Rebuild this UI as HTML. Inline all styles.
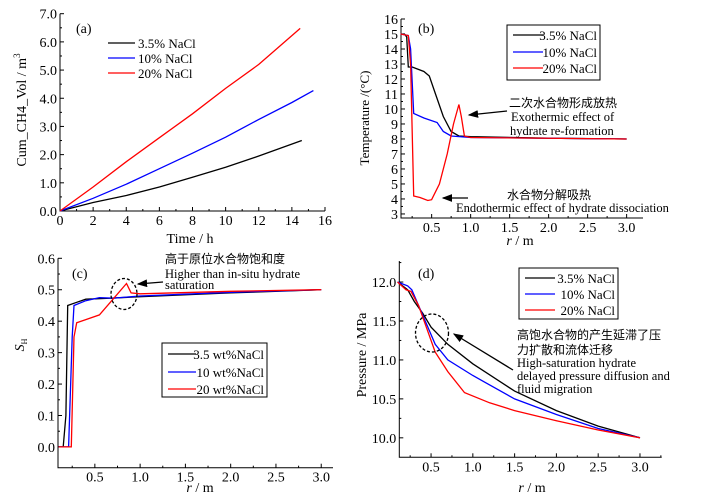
<!DOCTYPE html>
<html><head><meta charset="utf-8"><style>
html,body{margin:0;padding:0;background:#fff;}
svg{display:block;font-family:"Liberation Serif","Noto Serif CJK SC",serif;}
</style></head><body>
<svg id="fig" width="701" height="497" viewBox="0 0 701 497" xmlns="http://www.w3.org/2000/svg"></svg>
<script>
// ---- data (a) ----
const aBlackX=[0,2,4,6,8,10,12,14.6];
const aBlackY=[0,0.3,0.55,0.85,1.2,1.55,1.95,2.5];
const aBlueX=[0,2,4,6,8,10,12,14,15.3];
const aBlueY=[0,0.45,0.95,1.5,2.05,2.62,3.25,3.85,4.27];
const aRedX=[0,2,4,6,8,10,12,14.5];
const aRedY=[0,0.85,1.75,2.6,3.45,4.35,5.2,6.48];
const aXTicks=["0","2","4","6","8","10","12","14","16"];
const aYTicks=["0.0","1.0","2.0","3.0","4.0","5.0","6.0","7.0"];
// ---- data (b) ----
const bBlackX=[0.1,0.15,0.18,0.2,0.25,0.4,0.47,0.55,0.65,0.75,0.85,1.0,2,3];
const bBlackY=[15,15,14.8,12.8,12.8,12.5,12.2,11,9.5,8.5,8.2,8.15,8.05,8.0];
const bBlueX=[0.1,0.2,0.23,0.27,0.4,0.57,0.65,0.75,1,3];
const bBlueY=[15,14.9,14,9.7,9.4,9.1,8.5,8.2,8.1,8.0];
const bRedX=[0.1,0.2,0.23,0.27,0.35,0.45,0.5,0.6,0.7,0.78,0.85,0.88,0.92,1,3];
const bRedY=[15,14.9,13,4.2,4.1,3.9,3.95,5,7,9,10.3,9.5,8.2,8.1,8.0];
const bXTicks=["0.5","1.0","1.5","2.0","2.5","3.0"];
const bYTicks=["3","4","5","6","7","8","9","10","11","12","13","14","15","16"];
// ---- data (c) ----
const cBlackX=[0.1,0.15,0.18,0.2,0.3,0.4,0.6,1,2,3];
const cBlackY=[0,0,0.1,0.45,0.46,0.47,0.472,0.478,0.49,0.5];
const cBlueX=[0.1,0.21,0.25,0.27,0.4,0.55,0.7,1,2,3];
const cBlueY=[0,0,0.35,0.45,0.465,0.475,0.473,0.48,0.492,0.5];
const cRedX=[0.1,0.24,0.27,0.3,0.4,0.55,0.7,0.85,0.9,1,2,3];
const cRedY=[0,0,0.35,0.395,0.405,0.42,0.47,0.52,0.49,0.487,0.495,0.5];
const cXTicks=["0.5","1.0","1.5","2.0","2.5","3.0"];
const cYTicks=["0.0","0.1","0.2","0.3","0.4","0.5","0.6"];
// ---- data (d) ----
const dBlackX=[0.1,0.22,0.3,0.4,0.5,0.7,1,1.5,2,2.5,3];
const dBlackY=[12,11.9,11.75,11.6,11.42,11.2,10.95,10.6,10.35,10.15,10];
const dBlueX=[0.1,0.22,0.27,0.35,0.45,0.55,0.7,1,1.5,2,2.5,3];
const dBlueY=[12,11.95,11.9,11.7,11.45,11.2,11.0,10.8,10.5,10.3,10.12,10];
const dRedX=[0.1,0.2,0.26,0.35,0.45,0.55,0.7,0.9,1.2,1.5,2,2.5,3];
const dRedY=[12,11.9,11.88,11.7,11.4,11.1,10.85,10.58,10.45,10.35,10.22,10.1,10];
const dXTicks=["0.5","1.0","1.5","2.0","2.5","3.0"];
const dYTicks=["10.0","10.5","11.0","11.5","12.0"];

const NS="http://www.w3.org/2000/svg";
const svg=document.getElementById('fig');
function mk(tag,attrs,parent){const e=document.createElementNS(NS,tag);for(const k in attrs)e.setAttribute(k,attrs[k]);(parent||svg).appendChild(e);return e;}
function txt(s,x,y,size,anchor,parent){const t=mk('text',{x:x,y:y,'font-size':size,'text-anchor':anchor||'start',fill:'#000'},parent);t.textContent=s;return t;}

function panel(id,px0,px1,py0,py1,xmin,xmax,ymin,ymax,xTicks,yTicks,xMinor,yMinor,series){
  const g=mk('g',{});
  
  
  const sx=v=>px0+(v-xmin)/(xmax-xmin)*(px1-px0);
  const sy=v=>py1-(v-ymin)/(ymax-ymin)*(py1-py0);
  const ax=mk('path',{d:`M${px0},${py0}V${py1}H${px1}`,stroke:'#000','stroke-width':1,fill:'none'},g);
  
  
  xTicks.forEach(l=>{const v=parseFloat(l),x=sx(v);
    mk('line',{x1:x,x2:x,y1:py1,y2:py1-4,stroke:'#000'},g);
    const t=txt(l,x,py1+14,14,'middle',g);
    
    });
  for(let v=xMinor[0];v<=xmax+1e-9;v+=xMinor[1]){const x=sx(v);if(x>=px0)mk('line',{x1:x,x2:x,y1:py1,y2:py1-2,stroke:'#000'},g);}
  yTicks.forEach(l=>{const v=parseFloat(l),y=sy(v);
    mk('line',{x1:px0,x2:px0+4,y1:y,y2:y,stroke:'#000'},g);
    const t=txt(l,px0-3,y+5,14,'end',g);
    
    });
  for(let v=yMinor[0];v<=ymax+1e-9;v+=yMinor[1]){const y=sy(v);if(y<=py1)mk('line',{x1:px0,x2:px0+2,y1:y,y2:y,stroke:'#000'},g);}
  series.forEach(s=>{
    const d=s.x.map((v,i)=>(i?'L':'M')+sx(v).toFixed(1)+','+sy(s.y[i]).toFixed(1)).join('');
    const p=mk('path',{d:d,stroke:s.c,'stroke-width':1.3,fill:'none'},g);
    
    
  });
}
panel('a',60,325,13.7,211,0,16,0,7,aXTicks,aYTicks,[1,2],[0.5,1],
 [{x:aBlackX,y:aBlackY,c:'#000',n:'line-3-5pct'},{x:aBlueX,y:aBlueY,c:'#00f',n:'line-10pct'},{x:aRedX,y:aRedY,c:'#f00',n:'line-20pct'}]);
panel('b',401,643,19,218,0.107,3.21,2.73,16,bXTicks,bYTicks,[0.25,0.5],[3.5,1],
 [{x:bBlackX,y:bBlackY,c:'#000',n:'line-3-5pct'},{x:bBlueX,y:bBlueY,c:'#00f',n:'line-10pct'},{x:bRedX,y:bRedY,c:'#f00',n:'line-20pct'}]);
panel('c',58,333,258.3,467.7,0.093,3.13,-0.066,0.6,cXTicks,cYTicks,[0.25,0.5],[0.05,0.1],
 [{x:cBlackX,y:cBlackY,c:'#000',n:'line-3-5pct'},{x:cBlueX,y:cBlueY,c:'#00f',n:'line-10pct'},{x:cRedX,y:cRedY,c:'#f00',n:'line-20pct'}]);
panel('d',399.3,661.7,261,457.3,0.12,3.26,9.75,12.27,dXTicks,dYTicks,[0.25,0.5],[10.25,0.5],
 [{x:dBlackX,y:dBlackY,c:'#000',n:'line-3-5pct'},{x:dBlueX,y:dBlueY,c:'#00f',n:'line-10pct'},{x:dRedX,y:dRedY,c:'#f00',n:'line-20pct'}]);
</script>
<svg width="701" height="497" style="position:absolute;left:0;top:0" xmlns="http://www.w3.org/2000/svg" font-family="Liberation Serif, Noto Serif CJK SC, serif">
<defs><marker id="ah" markerWidth="8" markerHeight="6" refX="7" refY="3" orient="auto"><path d="M0,0L8,3L0,6z" fill="#000"/></marker></defs>
<text x="76" y="33" font-size="14">(a)</text>
<text x="418" y="33" font-size="14">(b)</text>
<text x="72" y="278" font-size="14">(c)</text>
<text x="418" y="278" font-size="14">(d)</text>
<text x="190" y="243" font-size="14" text-anchor="middle">Time / h</text>
<text transform="translate(26,110) rotate(-90)" font-size="14" text-anchor="middle">Cum_CH4_Vol / m<tspan font-size="9" dy="-6">3</tspan></text>
<text x="520" y="245" font-size="14" text-anchor="middle"><tspan font-style="italic">r</tspan> / m</text>
<text transform="translate(369,118) rotate(-90)" font-size="13" text-anchor="middle">Temperature /(°C)</text>
<text x="200" y="492" font-size="14" text-anchor="middle"><tspan font-style="italic">r</tspan> / m</text>
<text transform="translate(24,345) rotate(-90)" font-size="14" text-anchor="middle"><tspan font-style="italic">S</tspan><tspan font-size="8" dy="3">H</tspan></text>
<text x="532" y="492" font-size="14" text-anchor="middle"><tspan font-style="italic">r</tspan> / m</text>
<text transform="translate(366,355) rotate(-90)" font-size="14" text-anchor="middle">Pressure / MPa</text>
<g font-size="13">
<line x1="108" x2="135" y1="43" y2="43" stroke="#000" stroke-width="1.3"/><text x="138" y="48">3.5% NaCl</text>
<line x1="108" x2="135" y1="58" y2="58" stroke="#00f" stroke-width="1.3"/><text x="138" y="63">10%  NaCl</text>
<line x1="108" x2="135" y1="73" y2="73" stroke="#f00" stroke-width="1.3"/><text x="138" y="78">20%  NaCl</text>
</g>
<g font-size="13">
<rect x="507" y="25" width="93" height="55" fill="#fff" stroke="#000"/>
<line x1="513" x2="543" y1="35" y2="35" stroke="#000" stroke-width="1.3"/><text x="597" y="40" text-anchor="end">3.5% NaCl</text>
<line x1="513" x2="543" y1="52" y2="52" stroke="#00f" stroke-width="1.3"/><text x="597" y="57" text-anchor="end">10% NaCl</text>
<line x1="513" x2="543" y1="68" y2="68" stroke="#f00" stroke-width="1.3"/><text x="597" y="73" text-anchor="end">20% NaCl</text>
</g>
<g font-size="13">
<rect x="162" y="343" width="105" height="54" fill="#fff" stroke="#000"/>
<line x1="168" x2="196" y1="354" y2="354" stroke="#000" stroke-width="1.3"/><text x="264" y="359" text-anchor="end">3.5 wt%NaCl</text>
<line x1="168" x2="196" y1="372" y2="372" stroke="#00f" stroke-width="1.3"/><text x="264" y="377" text-anchor="end">10  wt%NaCl</text>
<line x1="168" x2="196" y1="389" y2="389" stroke="#f00" stroke-width="1.3"/><text x="264" y="394" text-anchor="end">20  wt%NaCl</text>
</g>
<g font-size="13">
<rect x="519" y="268" width="99" height="51" fill="#fff" stroke="#000"/>
<line x1="525" x2="555" y1="278" y2="278" stroke="#000" stroke-width="1.3"/><text x="615" y="283" text-anchor="end">3.5% NaCl</text>
<line x1="525" x2="555" y1="294" y2="294" stroke="#00f" stroke-width="1.3"/><text x="615" y="299" text-anchor="end">10% NaCl</text>
<line x1="525" x2="555" y1="310" y2="310" stroke="#f00" stroke-width="1.3"/><text x="615" y="315" text-anchor="end">20% NaCl</text>
</g>
<g font-size="12.5">
<text x="509" y="107" font-family="Noto Sans CJK SC, sans-serif" font-size="12">二次水合物形成放热</text>
<text x="511" y="121">Exothermic effect of</text>
<text x="510" y="135">hydrate re-formation</text>
<line x1="507" y1="111" x2="469" y2="115" stroke="#000" stroke-width="1.3" marker-end="url(#ah)"/>
</g>
<g font-size="12.5">
<text x="507" y="199" font-family="Noto Sans CJK SC, sans-serif" font-size="12">水合物分解吸热</text>
<text x="456" y="212">Endothermic effect of hydrate dissociation</text>
<line x1="468" y1="198" x2="443" y2="198" stroke="#000" stroke-width="1.3" marker-end="url(#ah)"/>
</g>
<g font-size="12.5">
<text x="165" y="263" font-family="Noto Sans CJK SC, sans-serif" font-size="12">高于原位水合物饱和度</text>
<text x="165" y="278">Higher than in-situ hydrate</text>
<text x="165" y="289">saturation</text>
<ellipse cx="124" cy="294" rx="13" ry="15.5" fill="none" stroke="#000" stroke-width="1.3" stroke-dasharray="3,2"/>
<line x1="163" y1="282" x2="138" y2="284" stroke="#000" stroke-width="1.3" marker-end="url(#ah)"/>
</g>
<g font-size="12.5">
<text x="517" y="339" font-family="Noto Sans CJK SC, sans-serif" font-size="12">高饱水合物的产生延滞了压</text>
<text x="517" y="354" font-family="Noto Sans CJK SC, sans-serif" font-size="12">力扩散和流体迁移</text>
<text x="517" y="367">High-saturation hydrate</text>
<text x="517" y="380">delayed pressure diffusion and</text>
<text x="517" y="393">fluid migration</text>
<ellipse cx="432" cy="333" rx="16.5" ry="19" fill="none" stroke="#000" stroke-width="1.3" stroke-dasharray="3,2"/>
<line x1="513" y1="370" x2="454" y2="334" stroke="#000" stroke-width="1.3" marker-end="url(#ah)"/>
</g>
</svg>
</body></html>
